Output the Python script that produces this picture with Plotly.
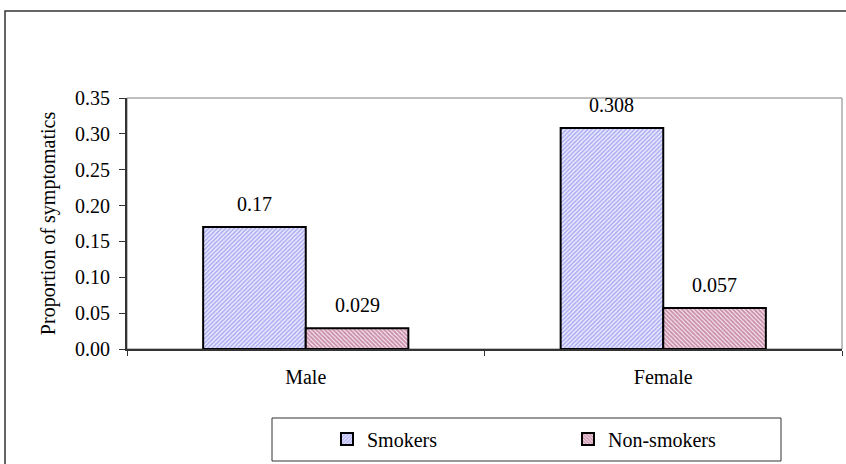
import plotly.graph_objects as go

categories = ["Male", "Female"]
smokers = [0.17, 0.308]
non_smokers = [0.029, 0.057]
smokers_labels = ["0.17", "0.308"]
non_smokers_labels = ["0.029", "0.057"]
y_ticks = [0.0, 0.05, 0.10, 0.15, 0.20, 0.25, 0.30, 0.35]

FONT = "Liberation Serif"
W, H = 846, 464
ML, MR, MT, MB = 127, 4, 98, 115
PW, PH = W - ML - MR, H - MT - MB

def px_x(p):
    return (p - ML) / PW

def px_y(p):
    return (H - MB - p) / PH

bargap = 0.426

fig = go.Figure()
fig.add_trace(go.Bar(
    x=categories, y=smokers, name="Smokers",
    marker=dict(color="white",
                line=dict(color="black", width=2),
                pattern=dict(shape="/", fgcolor="#6A6AE8", bgcolor="#F4F4FF", size=3, solidity=0.6)),
))
fig.add_trace(go.Bar(
    x=categories, y=non_smokers, name="Non-smokers",
    marker=dict(color="white",
                line=dict(color="black", width=2),
                pattern=dict(shape="\\", fgcolor="#993366", bgcolor="#FBEFF4", size=3, solidity=0.65)),
))

half = (1 - bargap) / 4
for i, cat in enumerate(categories):
    fig.add_annotation(x=i - half, y=smokers[i], xref="x", yref="y", text=smokers_labels[i],
                       showarrow=False, yanchor="bottom", yshift=10,
                       font=dict(family=FONT, size=20, color="black"))
    fig.add_annotation(x=i + half, y=non_smokers[i], xref="x", yref="y", text=non_smokers_labels[i],
                       showarrow=False, yanchor="bottom", yshift=10,
                       font=dict(family=FONT, size=20, color="black"))

# plot area border (gray)
fig.add_shape(type="rect", xref="paper", yref="paper", x0=0, x1=1, y0=0, y1=1,
              line=dict(color="#808080", width=1), layer="below")
# outer frame
fig.add_shape(type="rect", xref="paper", yref="paper",
              x0=px_x(5), x1=px_x(852), y0=px_y(470), y1=px_y(11),
              line=dict(color="#333333", width=1.5))
# legend box
fig.add_shape(type="rect", xref="paper", yref="paper",
              x0=px_x(272), x1=px_x(781), y0=px_y(461), y1=px_y(418),
              line=dict(color="#333333", width=1))

fig.update_layout(
    width=W, height=H,
    margin=dict(l=ML, r=MR, t=MT, b=MB),
    paper_bgcolor="white", plot_bgcolor="white",
    barmode="group", bargap=bargap, bargroupgap=0,
    font=dict(family=FONT, size=20, color="black"),
    showlegend=True,
    legend=dict(orientation="h", x=px_x(327), xanchor="left", y=px_y(439), yanchor="middle",
                font=dict(family=FONT, size=20, color="black"),
                bgcolor="rgba(0,0,0,0)", borderwidth=0,
                entrywidth=196, entrywidthmode="pixels", itemwidth=30),
    xaxis=dict(showline=True, linecolor="#333333", linewidth=1.5, ticks="outside",
               tickson="boundaries", ticklen=5, tickcolor="#333333", showgrid=False,
               tickfont=dict(family=FONT, size=20), ticklabelstandoff=9),
    yaxis=dict(range=[0, 0.35], tickvals=y_ticks, tickformat=".2f", showline=True,
               linecolor="#333333", linewidth=2, ticks="outside", ticklen=6, tickcolor="#333333",
               showgrid=False, zeroline=False, tickfont=dict(family=FONT, size=20),
               ticklabelstandoff=5,
               title=dict(text="Proportion of symptomatics", font=dict(family=FONT, size=20), standoff=14)),
)

fig.write_html("out.html")
